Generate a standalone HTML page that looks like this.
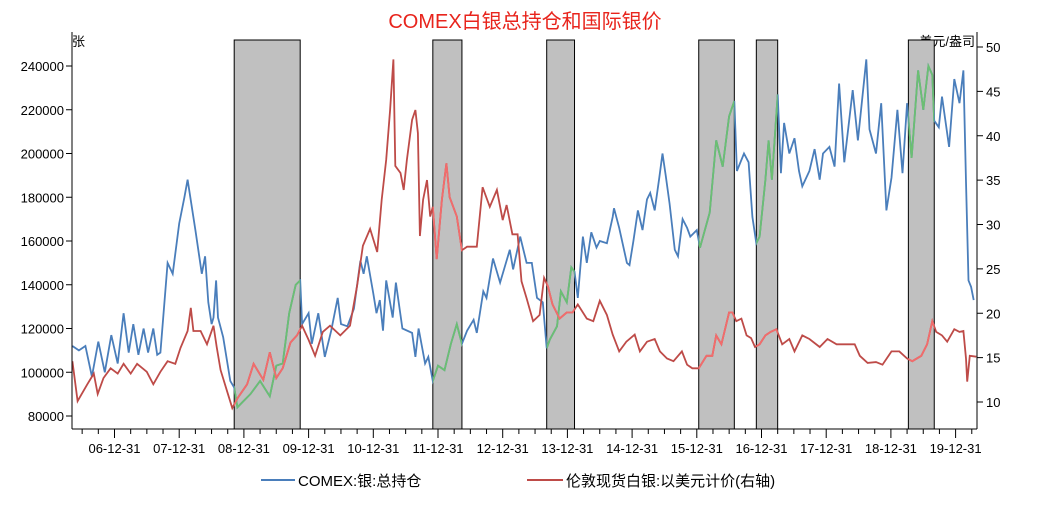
<!DOCTYPE html>
<html><head><meta charset="utf-8"><style>
body{margin:0;background:#fff;}
svg text{font-family:"Liberation Sans","Noto Sans CJK SC",sans-serif;}
</style></head><body>
<svg id="chart" width="1051" height="508" xmlns="http://www.w3.org/2000/svg">
<rect width="1051" height="508" fill="#fff"/>
<text x="525" y="28" text-anchor="middle" font-size="20" fill="#e8241c">COMEX白银总持仓和国际银价</text>
<text x="72" y="46" font-size="13" fill="#000">张</text>
<text x="975" y="46" text-anchor="end" font-size="13" fill="#000">美元/盎司</text>
<g id="shades"></g>
<g id="lines"></g>
<g id="axes"></g>
<g>
<line x1="261" y1="480" x2="295" y2="480" stroke="#4a7ebb" stroke-width="2"/>
<text x="298" y="486" font-size="15" fill="#000">COMEX:银:总持仓</text>
<line x1="527" y1="480" x2="563" y2="480" stroke="#be4b48" stroke-width="2"/>
<text x="566" y="486" font-size="15" fill="#000">伦敦现货白银:以美元计价(右轴)</text>
</g>
</svg>
<script>
const oiT=[2006.35,2006.45,2006.55,2006.65,2006.75,2006.85,2006.95,2007.05,2007.14,2007.22,2007.29,2007.37,2007.45,2007.52,2007.6,2007.66,2007.71,2007.82,2007.9,2008.0,2008.08,2008.13,2008.25,2008.35,2008.4,2008.45,2008.5,2008.53,2008.57,2008.6,2008.68,2008.79,2008.85,2008.9,2009.1,2009.25,2009.4,2009.5,2009.6,2009.7,2009.8,2009.87,2009.9,2010.0,2010.05,2010.15,2010.25,2010.35,2010.45,2010.5,2010.6,2010.7,2010.8,2010.85,2010.9,2011.0,2011.05,2011.1,2011.15,2011.2,2011.3,2011.35,2011.45,2011.6,2011.65,2011.7,2011.8,2011.85,2011.92,2012.0,2012.1,2012.2,2012.29,2012.37,2012.45,2012.55,2012.6,2012.7,2012.75,2012.85,2012.96,2013.11,2013.16,2013.27,2013.37,2013.45,2013.53,2013.62,2013.68,2013.73,2013.84,2013.9,2013.99,2014.06,2014.11,2014.16,2014.24,2014.3,2014.37,2014.45,2014.5,2014.61,2014.7,2014.72,2014.8,2014.92,2014.96,2015.02,2015.09,2015.16,2015.23,2015.28,2015.35,2015.42,2015.47,2015.52,2015.58,2015.66,2015.71,2015.78,2015.85,2015.9,2016.0,2016.05,2016.2,2016.3,2016.4,2016.5,2016.58,2016.62,2016.73,2016.8,2016.86,2016.92,2016.97,2017.06,2017.11,2017.16,2017.25,2017.3,2017.35,2017.43,2017.51,2017.58,2017.63,2017.74,2017.82,2017.9,2017.95,2018.05,2018.13,2018.2,2018.28,2018.41,2018.49,2018.62,2018.67,2018.77,2018.85,2018.93,2019.01,2019.1,2019.18,2019.25,2019.32,2019.42,2019.5,2019.58,2019.64,2019.67,2019.74,2019.79,2019.9,2019.98,2020.06,2020.12,2020.16,2020.2,2020.24,2020.28];
const oiV=[112,110,112,98,114,100,117,104,127,109,122,108,120,109,120,108,109,150,145,168,180,188,165,145,153,132,122,125,142,125,116,96,93,84,90,96,89,103,104,127,140,142,122,127,113,127,107,119,134,122,121,129,151,145,153,136,127,133,119,142,125,141,120,118,107,120,104,107,96,103,101,113,122,113,119,124,118,137,134,152,141,156,147,162,150,150,134,132,111,115,121,137,132,148,146,134,162,150,164,157,160,159,171,175,166,150,149,160,174,165,179,182,174,189,200,190,177,156,153,170,166,162,165,157,173,206,194,217,224,192,200,196,171,159,162,188,206,188,227,191,214,200,207,192,185,192,202,188,200,203,194,232,196,229,206,243,211,200,223,174,189,220,191,223,198,238,220,240,236,215,212,226,203,234,223,238,187,142,139,133];
const pxT=[2006.35,2006.43,2006.58,2006.68,2006.74,2006.83,2006.94,2007.05,2007.14,2007.25,2007.35,2007.5,2007.6,2007.71,2007.82,2007.94,2008.02,2008.13,2008.18,2008.22,2008.33,2008.43,2008.53,2008.58,2008.64,2008.74,2008.82,2008.9,2009.05,2009.15,2009.3,2009.4,2009.5,2009.6,2009.72,2009.82,2009.9,2010.0,2010.1,2010.22,2010.33,2010.49,2010.64,2010.75,2010.84,2010.95,2011.06,2011.13,2011.2,2011.26,2011.31,2011.34,2011.42,2011.47,2011.52,2011.6,2011.65,2011.69,2011.72,2011.77,2011.83,2011.88,2011.92,2011.98,2012.06,2012.13,2012.18,2012.29,2012.37,2012.45,2012.6,2012.69,2012.8,2012.91,2013.0,2013.06,2013.15,2013.23,2013.29,2013.37,2013.47,2013.57,2013.64,2013.7,2013.77,2013.88,2013.99,2014.08,2014.16,2014.3,2014.4,2014.5,2014.61,2014.7,2014.8,2014.91,2015.04,2015.12,2015.23,2015.35,2015.43,2015.54,2015.64,2015.77,2015.85,2015.93,2016.03,2016.15,2016.24,2016.3,2016.38,2016.5,2016.55,2016.61,2016.69,2016.77,2016.84,2016.9,2016.97,2017.06,2017.14,2017.23,2017.32,2017.43,2017.51,2017.63,2017.74,2017.9,2018.02,2018.16,2018.31,2018.44,2018.52,2018.64,2018.77,2018.87,2019.01,2019.13,2019.25,2019.33,2019.47,2019.56,2019.64,2019.7,2019.79,2019.87,2019.98,2020.06,2020.12,2020.16,2020.18,2020.22,2020.32];
const pxV=[14.6,10.1,12.0,13.2,10.9,12.7,13.8,13.2,14.3,13.2,14.3,13.4,12.0,13.4,14.6,14.3,16.1,18.0,20.6,18.0,18.0,16.5,18.6,16.2,13.6,11.2,9.3,10.4,12.0,14.3,12.5,15.6,12.7,13.8,16.7,17.5,18.6,17.0,15.2,17.9,18.6,17.5,18.6,23.1,27.6,29.5,26.9,32.8,37.3,42.9,48.6,36.6,35.8,33.9,37.3,41.8,42.9,40.3,28.7,32.8,35.0,30.9,32.0,26.1,32.8,36.9,33.1,30.9,27.1,27.5,27.5,34.2,32.0,33.9,30.5,32.2,28.9,28.9,23.6,21.7,19.1,19.8,24.0,23.0,21.0,19.4,20.1,20.1,21.0,19.4,19.1,21.4,19.8,17.6,15.7,16.8,17.6,15.7,16.8,17.1,15.7,14.9,14.6,15.7,14.2,13.8,13.8,15.2,15.2,17.5,16.5,20.1,20.1,19.1,19.4,17.5,17.2,16.2,16.5,17.5,17.9,18.2,16.5,17.1,15.7,17.5,17.1,16.2,17.1,16.5,16.5,16.5,15.2,14.4,14.5,14.2,15.7,15.7,14.9,14.6,15.2,16.5,19.1,17.9,17.5,16.8,18.2,17.9,18.0,14.9,12.3,15.2,15.1];
const shadeStart=[2008.85,2011.92,2013.68,2016.03,2016.92,2019.27];
const shadeEnd=[2009.87,2012.37,2014.11,2016.58,2017.25,2019.67];
const leftTicks=[80000,100000,120000,140000,160000,180000,200000,220000,240000];
const rightTicks=[10,15,20,25,30,35,40,45,50];
const yearLabels=['06-12-31','07-12-31','08-12-31','09-12-31','10-12-31','11-12-31','12-12-31','13-12-31','14-12-31','15-12-31','16-12-31','17-12-31','18-12-31','19-12-31'];

const NS='http://www.w3.org/2000/svg';
const X0=72,X1=977,YB=429,YT=40;
function xs(t){return 114.5+(t-2007)*64.7;}
function yl(v){return 416-(v-80000)/160000*350;}
function yr(v){return 47+(50-v)*8.875;}
function mk(tag,attrs,parent){const e=document.createElementNS(NS,tag);for(const k in attrs)e.setAttribute(k,attrs[k]);parent.appendChild(e);return e;}
const svg=document.getElementById('chart');
const shades=document.getElementById('shades'),lines=document.getElementById('lines'),axes=document.getElementById('axes');
const defs=mk('defs',{},svg);
const cp=mk('clipPath',{id:'shadeClip'},defs);
for(let i=0;i<shadeStart.length;i++){
  const r=mk('rect',{x:xs(shadeStart[i]),y:YT,width:xs(shadeEnd[i])-xs(shadeStart[i]),height:YB-YT,fill:'#c0c0c0',stroke:'#000','stroke-width':1},shades);
  
  
  mk('rect',{x:xs(shadeStart[i]),y:YT,width:xs(shadeEnd[i])-xs(shadeStart[i]),height:YB-YT},cp);
}
function pts(T,V,f){return T.map((t,i)=>xs(t).toFixed(1)+','+f(V[i]).toFixed(1)).join(' ');}
const oiP=pts(oiT,oiV.map(v=>v*1000),yl), pxP=pts(pxT,pxV,yr);
let l=mk('polyline',{points:oiP,fill:'none',stroke:'#4a7ebb','stroke-width':1.8},lines);


l=mk('polyline',{points:pxP,fill:'none',stroke:'#be4b48','stroke-width':1.8},lines);


const g=mk('g',{'clip-path':'url(#shadeClip)'},lines);
l=mk('polyline',{points:oiP,fill:'none',stroke:'#6cbf72','stroke-width':1.8},g);


l=mk('polyline',{points:pxP,fill:'none',stroke:'#f26c6c','stroke-width':1.8},g);


mk('line',{x1:X0,y1:YT-8,x2:X0,y2:YB,stroke:'#000'},axes);
mk('line',{x1:X1,y1:YT-8,x2:X1,y2:YB,stroke:'#000'},axes);
mk('line',{x1:X0,y1:YB,x2:X1,y2:YB,stroke:'#000'},axes);
leftTicks.forEach(v=>{const y=yl(v);mk('line',{x1:X0-6,y1:y,x2:X0,y2:y,stroke:'#000'},axes);
  const t=mk('text',{x:X0-8,y:y+5,'text-anchor':'end','font-size':13,fill:'#000'},axes);t.textContent=v;
  
  });
rightTicks.forEach(v=>{const y=yr(v);mk('line',{x1:X1,y1:y,x2:X1+6,y2:y,stroke:'#000'},axes);
  const t=mk('text',{x:X1+9,y:y+5,'font-size':13,fill:'#000'},axes);t.textContent=v;
  
  });
for(let q=2006.5;q<2020.4;q+=0.25){const x=xs(q);if(x<X0||x>X1)continue;const major=Math.abs(q-Math.round(q))<0.01;
  mk('line',{x1:x,y1:YB,x2:x,y2:YB+(major?9:5),stroke:'#000'},axes);}
yearLabels.forEach((s,i)=>{const t=mk('text',{x:xs(2007+i),y:453,'text-anchor':'middle','font-size':13,fill:'#000'},axes);t.textContent=s;
  
  });
</script>
</body></html>
